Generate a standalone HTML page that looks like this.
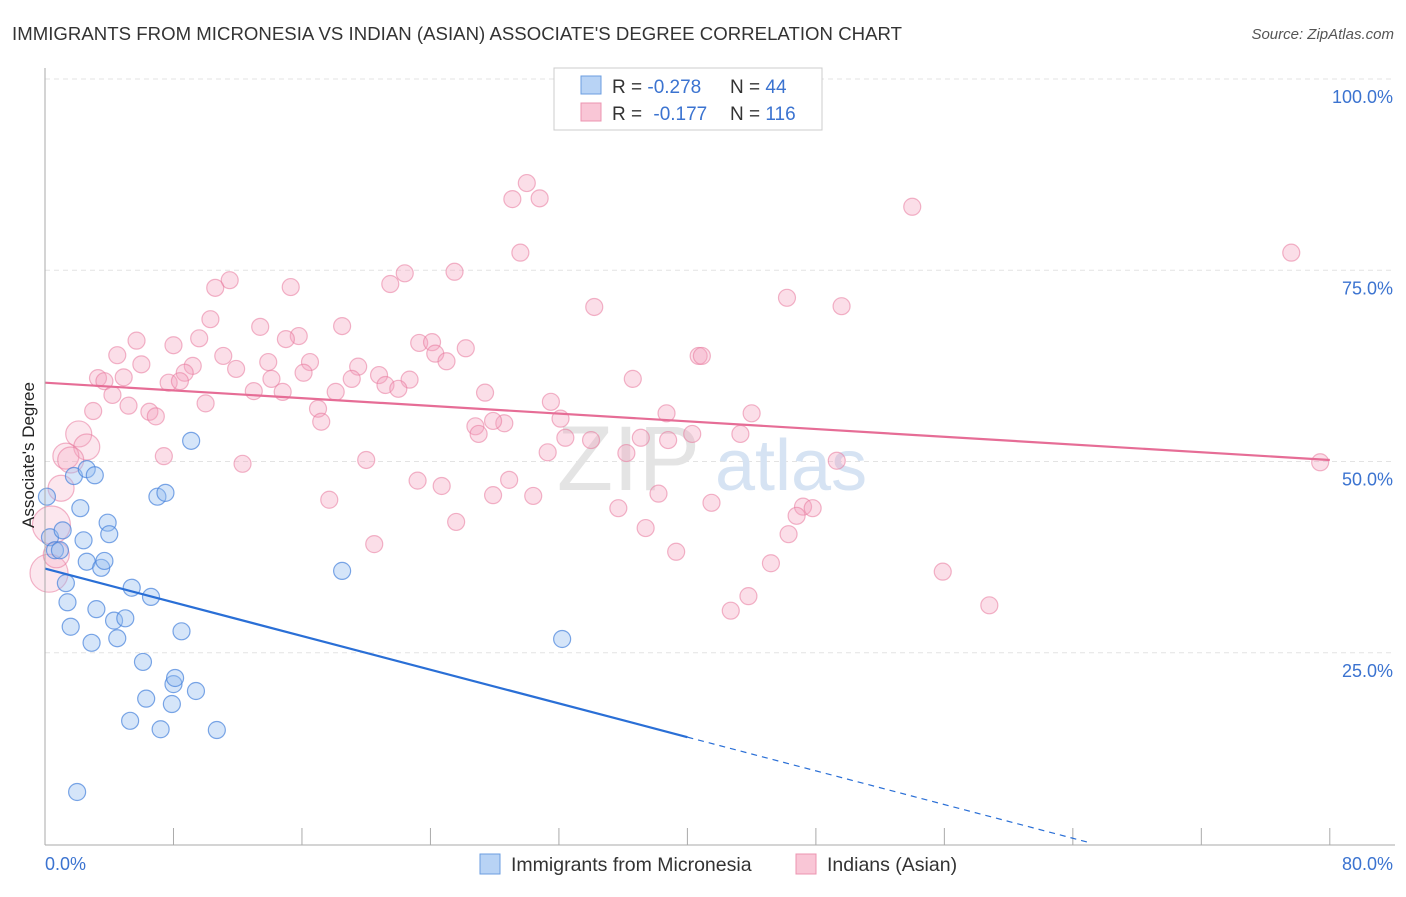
<!DOCTYPE html>
<html><head><meta charset="utf-8"><style>
body{margin:0;background:#fff;font-family:"Liberation Sans",sans-serif}
svg text{font-family:"Liberation Sans",sans-serif}
</style></head><body>
<svg width="1406" height="892">
<text x="12" y="40" font-size="18.6" fill="#333" textLength="890">IMMIGRANTS FROM MICRONESIA VS INDIAN (ASIAN) ASSOCIATE'S DEGREE CORRELATION CHART</text>
<text x="1394" y="39" font-size="15" fill="#555" font-style="italic" text-anchor="end">Source: ZipAtlas.com</text>
<g id="grid"></g>
<text x="700" y="490" font-size="92" fill="#e4e4e4" text-anchor="end" font-family="Liberation Serif">ZIP</text>
<text x="715" y="490" font-size="72" fill="#d6e3f3">atlas</text>
<g id="ticks"></g>
<g id="pts"></g>
<g id="trends"></g>
<line x1="45" y1="68" x2="45" y2="845" stroke="#aaa"/>
<line x1="45" y1="845" x2="1395" y2="845" stroke="#aaa"/>
<text transform="translate(34,455) rotate(-90)" font-size="17" fill="#222" text-anchor="middle">Associate's Degree</text>
<text x="45" y="870" font-size="18" fill="#3b73d0">0.0%</text>
<text x="1393" y="870" font-size="18" fill="#3b73d0" text-anchor="end">80.0%</text>
<g id="ylabels"></g>
<g>
<rect x="554" y="68" width="268" height="62" fill="#fff" stroke="#ccc"/>
<rect x="581" y="76" width="20" height="18" fill="#b8d3f5" stroke="#6b9ee0"/>
<rect x="581" y="103" width="20" height="18" fill="#f9c6d6" stroke="#ec94b0"/>
<text x="612" y="93" font-size="19" fill="#333">R = <tspan fill="#3b73d0">-0.278</tspan><tspan x="730">N = </tspan><tspan fill="#3b73d0">44</tspan></text>
<text x="612" y="120" font-size="19" fill="#333">R = <tspan fill="#3b73d0" dx="6">-0.177</tspan><tspan x="730">N = </tspan><tspan fill="#3b73d0">116</tspan></text>
</g>
<g>
<rect x="480" y="854" width="20" height="20" fill="#b8d3f5" stroke="#6b9ee0"/>
<text x="511" y="871" font-size="19.5" fill="#333">Immigrants from Micronesia</text>
<rect x="796" y="854" width="20" height="20" fill="#f9c6d6" stroke="#ec94b0"/>
<text x="827" y="871" font-size="19.5" fill="#333">Indians (Asian)</text>
</g>
</svg>
<script>
const yTicks=[25,50,75,100];
const yTickLabels=["25.0%","50.0%","75.0%","100.0%"];
const xTicks=[0,8,16,24,32,40,48,56,64,72,80];
const blueX=[0.12,0.31,0.62,0.93,1.1,1.3,1.4,1.6,1.8,2.0,2.2,2.4,2.6,2.6,2.9,3.1,3.2,3.5,3.7,3.9,4.0,4.3,4.5,5.0,5.3,5.4,6.1,6.3,6.6,7.0,7.2,7.5,7.9,8.0,8.1,8.5,9.1,9.4,10.7,18.5,32.2];
const blueY=[45.4,40.1,38.4,38.4,41.0,34.1,31.6,28.4,48.1,6.8,43.9,39.7,36.9,49.0,26.3,48.2,30.7,36.1,37.0,42.0,40.5,29.2,26.9,29.5,16.1,33.5,23.8,19.0,32.3,45.4,15.0,45.9,18.3,20.9,21.7,27.8,52.7,20.0,14.9,35.7,26.8];
const pinkX=[30.0,29.1,30.8,54.0,77.6,29.6,22.4,11.5,25.5,10.6,15.3,21.5,46.2,49.6,34.2,10.3,18.5,13.4,5.7,9.6,15.8,15.0,8.0,23.3,24.1,26.2,4.5,11.1,13.9,6.0,16.5,24.3,25.0,40.7,40.9,9.2,11.9,8.7,19.5,20.8,3.3,4.9,3.7,7.7,8.4,14.1,22.7,36.6,16.1,19.1,21.2,22.0,13.0,14.8,4.2,18.1,27.4,10.0,5.2,3.0,6.5,6.9,17.0,17.2,31.5,38.7,44.0,26.8,28.6,32.1,27.9,27.0,32.4,34.0,37.1,38.8,40.3,43.3,2.1,2.6,1.3,7.4,31.3,36.2,1.6,12.3,20.0,49.3,79.4,23.2,1.0,24.7,28.9,17.7,27.9,30.4,38.2,35.7,41.5,25.6,47.2,47.8,46.8,37.4,46.3,20.5,39.3,45.2,55.9,43.8,58.8,42.7,0.4,0.25,0.7];
const pinkY=[86.4,84.3,84.4,83.3,77.3,77.3,74.6,73.7,74.8,72.7,72.8,73.2,71.4,70.3,70.2,68.6,67.7,67.6,65.8,66.1,66.4,66.0,65.2,65.5,65.6,64.8,63.9,63.8,63.0,62.7,63.0,64.1,63.1,63.8,63.8,62.5,62.1,61.6,62.4,61.3,60.9,61.0,60.5,60.3,60.5,60.8,60.7,60.8,61.6,60.8,60.0,59.5,59.2,59.1,58.7,59.1,59.0,57.6,57.3,56.6,56.5,55.9,56.9,55.2,57.8,56.3,56.3,54.6,55.0,55.6,55.3,53.6,53.1,52.8,53.1,52.8,53.6,53.6,53.6,51.9,50.7,50.7,51.2,51.1,50.2,49.7,50.2,50.1,49.9,47.5,46.5,46.8,47.6,45.0,45.6,45.5,45.8,43.9,44.6,42.1,44.1,43.9,42.9,41.3,40.5,39.2,38.2,36.7,35.6,32.4,31.2,30.5,41.7,35.4,37.8];
const pinkBig=[0,0,0,0,0,0,0,0,0,0,0,0,0,0,0,0,0,0,0,0,0,0,0,0,0,0,0,0,0,0,0,0,0,0,0,0,0,0,0,0,0,0,0,0,0,0,0,0,0,0,0,0,0,0,0,0,0,0,0,0,0,0,0,0,0,0,0,0,0,0,0,0,0,0,0,0,0,0,1,1,1,0,0,0,1,0,0,0,0,0,1,0,0,0,0,0,0,0,0,0,0,0,0,0,0,0,0,0,0,0,0,0,2,2,1];
const blueTrend=[[0,36],[65,0.2]];
const blueSolidEnd=40;
const pinkTrend=[[0,60.3],[80,50.2]];
const NS="http://www.w3.org/2000/svg";
const xs=v=>45+v*16.06, ys=v=>844-v*7.65;
function mk(t,a,p){const e=document.createElementNS(NS,t);for(const k in a)e.setAttribute(k,a[k]);p.appendChild(e);return e;}
const grid=document.getElementById('grid'),yl=document.getElementById('ylabels'),tk=document.getElementById('ticks');
yTicks.forEach((v,i)=>{const l=mk('line',{x1:45,x2:1395,y1:ys(v),y2:ys(v),stroke:'#e3e3e3','stroke-dasharray':'5,4'},grid);


const t=mk('text',{x:1393,y:ys(v)+24,'font-size':18,fill:'#3b73d0','text-anchor':'end'},yl);t.textContent=yTickLabels[i];

});
xTicks.forEach(v=>{const l=mk('line',{x1:xs(v),x2:xs(v),y1:828,y2:845,stroke:'#aaa'},tk);

});
const pts=document.getElementById('pts');
pinkX.forEach((x,i)=>{const b=pinkBig[i]||0;const r=[8.5,13,19][b];const c=mk('circle',{cx:xs(x),cy:ys(pinkY[i]),r:r,fill:b?'rgba(244,160,188,0.25)':'rgba(244,160,188,0.35)',stroke:'rgba(232,120,156,0.55)','stroke-width':1.2},pts);

});
blueX.forEach((x,i)=>{const c=mk('circle',{cx:xs(x),cy:ys(blueY[i]),r:8.5,fill:'rgba(150,190,240,0.4)',stroke:'rgba(70,130,220,0.7)','stroke-width':1.2},pts);

});
const tr=document.getElementById('trends');
const by=x=>blueTrend[0][1]+(blueTrend[1][1]-blueTrend[0][1])*(x-blueTrend[0][0])/(blueTrend[1][0]-blueTrend[0][0]);
let l1=mk('line',{x1:xs(0),y1:ys(by(0)),x2:xs(blueSolidEnd),y2:ys(by(blueSolidEnd)),stroke:'#2a6fd6','stroke-width':2.2},tr);


let l2=mk('line',{x1:xs(blueSolidEnd),y1:ys(by(blueSolidEnd)),x2:xs(blueTrend[1][0]),y2:ys(blueTrend[1][1]),stroke:'#2a6fd6','stroke-width':1.2,'stroke-dasharray':'6,5'},tr);


let l3=mk('line',{x1:xs(pinkTrend[0][0]),y1:ys(pinkTrend[0][1]),x2:xs(pinkTrend[1][0]),y2:ys(pinkTrend[1][1]),stroke:'#e66d96','stroke-width':2.2},tr);


</script>
</body></html>
